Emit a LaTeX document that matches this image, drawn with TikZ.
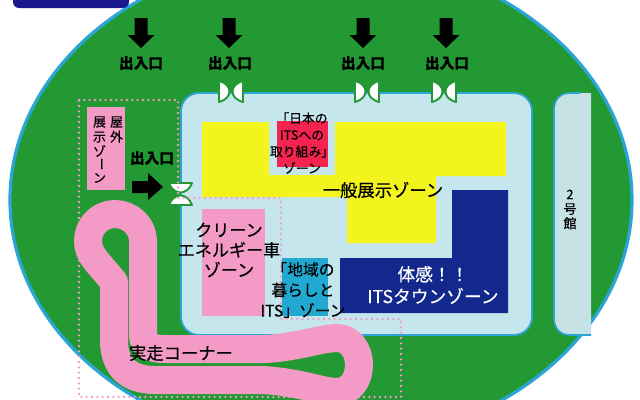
\documentclass[tikz,border=0pt]{standalone}
\usepackage{fontspec}
\setmainfont{Noto Sans CJK JP}[FakeBold=0.35]
\definecolor{grn}{HTML}{229933}
\definecolor{hall}{HTML}{C5E6EC}
\definecolor{halltwo}{HTML}{C6E2E4}
\definecolor{bdr}{HTML}{2AA5D5}
\definecolor{pnk}{HTML}{F49AC6}
\definecolor{ylw}{HTML}{F3F31E}
\definecolor{nvy}{HTML}{12288C}
\definecolor{rd}{HTML}{F5234F}
\definecolor{cyn}{HTML}{21A9D1}
\definecolor{top}{HTML}{1A1A8C}
\tikzset{
 lab/.style={align=center,inner sep=0pt,text=black},
 big/.style={lab,font=\fontsize{13pt}{15pt}\selectfont},
 door/.style={font=\fontsize{11pt}{13pt}\selectfont\bfseries,inner sep=0pt},
 leaf/.style={fill=white,draw=grn,line width=1.4pt,line join=round},
 dots/.style={draw=pnk,line width=1.9pt,line cap=round,dash pattern=on 0pt off 4pt},
 vert/.style={lab,font=\fontsize{9.7pt}{11.25pt}\selectfont},
}
\newcommand{\downarr}[1]{\fill[black] (#1-6.5,18)--(#1+6.5,18)--(#1+6.5,35)--(#1+13.5,35)--(#1,48)--(#1-13.5,35)--(#1-6.5,35)--cycle;}
\newcommand{\vgate}[1]{%
 \draw[leaf] (#1-12,81) -- (#1-12,102) .. controls (#1-5,100) and (#1-1.5,96) .. (#1-1.5,91.5) .. controls (#1-1.5,87) and (#1-5,83) .. (#1-12,81) -- cycle;
 \draw[leaf] (#1+12,81) -- (#1+12,102) .. controls (#1+5,100) and (#1+1.5,96) .. (#1+1.5,91.5) .. controls (#1+1.5,87) and (#1+5,83) .. (#1+12,81) -- cycle;}
\begin{document}
\begin{tikzpicture}[x=0.75pt,y=-0.75pt]
\useasboundingbox (0,0) rectangle (640,400);
\fill[white] (0,0) rectangle (640,400);
\begin{scope}
\clip (0,0) rectangle (640,400);
\draw[fill=grn,draw=bdr,line width=2.4pt] (321,200) ellipse [x radius=311,y radius=246];
\fill[top,rounded corners=4.5pt] (13,-20) rectangle (129,8);
\end{scope}
% halls
\draw[fill=hall,draw=bdr,line width=1.4pt,rounded corners=13.5pt] (181,93) rectangle (532,335);
\fill[halltwo] (591,93) -- (570,93) .. controls (560,93) and (554,100) .. (554,110) -- (554,318) .. controls (554,328) and (560,335) .. (570,335) -- (591,335) -- cycle;
\draw[bdr,line width=1.2pt] (580,93) -- (570,93) .. controls (560,93) and (554,100) .. (554,110) -- (554,318) .. controls (554,328) and (560,335) .. (570,335) -- (591,335);
% zones
\fill[ylw] (202,122)--(269,122)--(269,175)--(335,175)--(335,122)--(506,122)--(506,176)--(436,176)--(436,243)--(347,243)--(347,197)--(202,197)--cycle;
\fill[rd] (277,121) rectangle (328,167);
\fill[nvy] (452,190)--(508,190)--(508,313)--(340,313)--(340,258)--(452,258)--cycle;
\fill[pnk] (202,209) rectangle (265,316);
\fill[cyn] (282,258) rectangle (328,316);
\fill[pnk] (87,107) rectangle (125,190);
% arrows
\downarr{141}\downarr{229}\downarr{363}\downarr{446}
\fill[black] (132,181)--(148,181)--(148,173)--(163,187)--(148,200)--(148,193)--(132,193)--cycle;
% gates
\vgate{231}\vgate{367}\vgate{444}
\draw[leaf] (169,183)--(192,183) .. controls (190,189) and (185,192.5) .. (180.5,192.5) .. controls (176,192.5) and (171,189) .. (169,183)--cycle;
\draw[leaf] (169,205)--(192,205) .. controls (190,199) and (185,195.5) .. (180.5,195.5) .. controls (176,195.5) and (171,199) .. (169,205)--cycle;
% dotted
\draw[dots] (79,100)--(178,100)--(178,198)--(281,198)--(281,319)--(401,319)--(401,397)--(79,397)--cycle;
% track
\draw[pnk,line width=21pt,line join=round]
 (114,340) .. controls (114,368) and (130,380) .. (155,380)
 -- (262,380) .. controls (300,382) and (322,392) .. (337,392)
 .. controls (350,392) and (359,380) .. (359,365)
 .. controls (359,350) and (350,338) .. (337,338)
 .. controls (322,338) and (290,349) .. (262,349)
 -- (165,349) .. controls (150,349) and (143,345) .. (143,335)
 -- (143,241) .. controls (143,226) and (130,214) .. (115,214)
 .. controls (100,214) and (88,226) .. (88,241)
 .. controls (88,255) and (98,262) .. (114,282) -- cycle;
% door labels
\node[door] (d1) at (141,63) {出入口};
\node[door] (d2) at (230,63) {出入口};
\node[door] (d3) at (363,63) {出入口};
\node[door] (d4) at (447,63) {出入口};
\node[door] (d5) at (152,158) {出入口};
% labels
\node[lab,font=\fontsize{9.6pt}{12.5pt}\selectfont] (a) at (302,143) {「日本の\\ITSへの\\取り組み」\\ゾーン};
\node[big] (b) at (383,190) {一般展示ゾーン};
\node[big,font=\fontsize{12.8pt}{15pt}\selectfont] (c) at (229,250) {クリーン\\エネルギー車\\ゾーン};
\node[lab,font=\fontsize{11.8pt}{15.4pt}\selectfont] (e) at (303,290) {「地域の\\暮らしと\\ITS」ゾーン};
\node[lab,font=\fontsize{13.3pt}{16.5pt}\selectfont,text=white] (f) at (433,285) {体感！！\\ITSタウンゾーン};
\node[big] (g) at (181,353) {実走コーナー};
\node[vert] (h) at (116.5,129.5) {屋\\外};
\node[vert] (i) at (99.5,129.5) {展\\示};
\node[vert] (j) at (99.5,151) {ゾ};
\node[vert,rotate=-90] (k) at (99.5,164) {ー};
\node[vert] (l) at (99.5,178) {ン};
\node[lab,font=\fontsize{9.8pt}{10.9pt}\selectfont] (m) at (570,209.5) {2\\号\\館};
\end{tikzpicture}
\end{document}
